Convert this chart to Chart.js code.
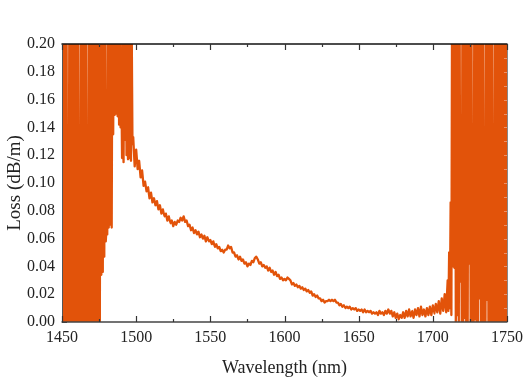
<!DOCTYPE html>
<html>
<head>
<meta charset="utf-8">
<script src="https://cdn.jsdelivr.net/npm/chart.js@4/dist/chart.umd.min.js"></script>
<style>
  html, body { margin: 0; padding: 0; background: #fff; }
  #wrap { width: 529px; height: 387px; position: relative; }
</style>
</head>
<body>
<div id="wrap"><canvas id="c" width="529" height="387"></canvas></div>
<script>
// ---- Data (wavelength in nm, loss in dB/m) ----
// Short-wavelength noisy edge (signal saturates above 0.20)
const blueEdgeWl = [1450,1450.5,1451,1451.5,1452,1452.5,1453,1453.5,1454,1454.5,1455,1455.5,1456,1456.5,1457,1457.5,1458,1458.5,1459,1459.5,1460,1460.5,1461,1461.5,1462,1462.5,1463,1463.5,1464,1464.5,1465,1465.5,1466,1466.5,1467,1467.5,1468,1468.5,1469,1469.5,1470,1470.5,1471,1471.5,1472,1472.5,1473,1473.5,1474,1474.5,1475,1475.5];
const blueEdgeLoss = [0.25,0,0.25,0,0.25,0,0.25,0,0.004,0,0.25,0,0.25,0,0.25,0,0.25,0,0.25,0,0.25,0,0.25,0,0.011,0,0.25,0,0.25,0,0.25,0,0.25,0,0.068,0,0.25,0,0.25,0,0.25,0,0.25,0,0.25,0,0.25,0,0.25,0,0.25,0];

// Transition region 1476–1497.5 nm
const transitionWl = [1476,1476.5,1477,1477.5,1478,1478.5,1479,1479.5,1480,1480.5,1481,1481.5,1482,1482.5,1483,1483.5,1484,1484.5,1485,1485.5,1486,1486.5,1487,1487.5,1488,1488.5,1489,1489.5,1490,1490.5,1491,1491.5,1492,1492.5,1493,1493.5,1494,1494.5,1495,1495.5,1496,1496.5,1497,1497.5];
const transitionLoss = [0.25,0.034,0.25,0.036,0.25,0.047,0.25,0.058,0.068,0.063,0.25,0.068,0.25,0.07,0.25,0.068,0.25,0.135,0.25,0.149,0.25,0.15,0.25,0.148,0.25,0.142,0.25,0.14,0.172,0.118,0.25,0.115,0.25,0.131,0.25,0.12,0.25,0.117,0.25,0.118,0.22,0.116,0.21,0.128];

// Low-loss band 1498–1713 nm
const bandWl = [1498,1499,1500,1501,1502,1503,1504,1505,1506,1507,1508,1509,1510,1511,1512,1513,1514,1515,1516,1517,1518,1519,1520,1521,1522,1523,1524,1525,1526,1527,1528,1529,1530,1531,1532,1533,1534,1535,1536,1537,1538,1539,1540,1541,1542,1543,1544,1545,1546,1547,1548,1549,1550,1551,1552,1553,1554,1555,1556,1557,1558,1559,1560,1561,1562,1563,1564,1565,1566,1567,1568,1569,1570,1571,1572,1573,1574,1575,1576,1577,1578,1579,1580,1581,1582,1583,1584,1585,1586,1587,1588,1589,1590,1591,1592,1593,1594,1595,1596,1597,1598,1599,1600,1601,1602,1603,1604,1605,1606,1607,1608,1609,1610,1611,1612,1613,1614,1615,1616,1617,1618,1619,1620,1621,1622,1623,1624,1625,1626,1627,1628,1629,1630,1631,1632,1633,1634,1635,1636,1637,1638,1639,1640,1641,1642,1643,1644,1645,1646,1647,1648,1649,1650,1651,1652,1653,1654,1655,1656,1657,1658,1659,1660,1661,1662,1663,1664,1665,1666,1667,1668,1669,1670,1671,1672,1673,1674,1675,1676,1677,1678,1679,1680,1681,1682,1683,1684,1685,1686,1687,1688,1689,1690,1691,1692,1693,1694,1695,1696,1697,1698,1699,1700,1701,1702,1703,1704,1705,1706,1707,1708,1709,1710,1710.5,1711,1711.5,1712,1712.5,1713];
const bandLoss = [0.133,0.112,0.124,0.110,0.116,0.104,0.109,0.098,0.101,0.094,0.097,0.089,0.093,0.086,0.089,0.084,0.087,0.081,0.084,0.078,0.081,0.076,0.078,0.073,0.076,0.071,0.073,0.069,0.072,0.070,0.073,0.072,0.075,0.073,0.076,0.072,0.073,0.069,0.070,0.066,0.068,0.064,0.066,0.063,0.065,0.061,0.063,0.060,0.062,0.058,0.061,0.058,0.059,0.056,0.058,0.054,0.056,0.053,0.054,0.051,0.052,0.050,0.052,0.052,0.055,0.053,0.054,0.050,0.050,0.047,0.048,0.045,0.047,0.044,0.045,0.042,0.043,0.040,0.042,0.041,0.044,0.043,0.046,0.047,0.045,0.042,0.043,0.040,0.041,0.039,0.040,0.037,0.039,0.036,0.037,0.034,0.036,0.033,0.034,0.031,0.032,0.030,0.031,0.030,0.032,0.031,0.030,0.027,0.028,0.026,0.027,0.025,0.026,0.024,0.025,0.023,0.024,0.022,0.023,0.021,0.022,0.019,0.020,0.018,0.019,0.017,0.017,0.015,0.016,0.014,0.015,0.015,0.016,0.015,0.016,0.015,0.016,0.014,0.014,0.012,0.013,0.011,0.012,0.010,0.011,0.010,0.011,0.009,0.010,0.009,0.010,0.008,0.009,0.008,0.009,0.007,0.009,0.007,0.008,0.007,0.008,0.006,0.007,0.006,0.007,0.005,0.008,0.006,0.007,0.005,0.008,0.006,0.009,0.006,0.008,0.004,0.007,0.003,0.006,0.002,0.005,0.003,0.007,0.003,0.008,0.004,0.009,0.004,0.008,0.003,0.009,0.005,0.010,0.004,0.011,0.005,0.009,0.004,0.010,0.005,0.011,0.005,0.012,0.006,0.013,0.007,0.015,0.006,0.017,0.008,0.020,0.007,0.030,0.008,0.050,0.010,0.086,0.005,0.25];

// Long-wavelength noisy edge (signal saturates above 0.20)
const redEdgeWl = [1713.5,1714,1714.5,1715,1715.5,1716,1716.5,1717,1717.5,1718,1718.5,1719,1719.5,1720,1720.5,1721,1721.5,1722,1722.5,1723,1723.5,1724,1724.5,1725,1725.5,1726,1726.5,1727,1727.5,1728,1728.5,1729,1729.5,1730,1730.5,1731,1731.5,1732,1732.5,1733,1733.5,1734,1734.5,1735,1735.5,1736,1736.5,1737,1737.5,1738,1738.5,1739,1739.5,1740,1740.5,1741,1741.5,1742,1742.5,1743,1743.5,1744,1744.5,1745,1745.5,1746,1746.5,1747,1747.5,1748,1748.5,1749,1749.5,1750];
const redEdgeLoss = [0.04,0.25,0.039,0.25,0,0.25,0.005,0.25,0,0.25,0.029,0.136,0,0.25,0,0.25,0.003,0.25,0,0.25,0,0.25,0.042,0.25,0,0.25,0,0.106,0,0.25,0.002,0.25,0,0.25,0,0.25,0.017,0.25,0,0.25,0,0.25,0,0.02,0,0.25,0.016,0.25,0,0.25,0,0.25,0,0.25,0,0.126,0,0.25,0,0.25,0,0.25,0,0.25,0,0.25,0,0.25,0,0.25,0,0.25,0,0.25];

// Axis ticks
const xTicks = [1450,1500,1550,1600,1650,1700,1750];
const yTicks = [0.00,0.02,0.04,0.06,0.08,0.10,0.12,0.14,0.16,0.18,0.20];

const allWl = [].concat(blueEdgeWl, transitionWl, bandWl, redEdgeWl);
const allLoss = [].concat(blueEdgeLoss, transitionLoss, bandLoss, redEdgeLoss);
const points = allWl.map((w, i) => ({x: w, y: allLoss[i]}));

const ORANGE = '#e2530a';
const FONT = "'Liberation Serif', 'Times New Roman', serif";

const framePlugin = {
  id: 'frame',
  beforeDatasetsDraw(chart) {
    const {ctx, chartArea: a, scales: {y}} = chart;
    ctx.save();
    ctx.strokeStyle = '#333';
    ctx.lineWidth = 1;
    for (let i = 0; i <= 20; i++) {
      const py = Math.round(y.getPixelForValue(i * 0.01)) + 0.5;
      const len = i % 2 === 0 ? 5 : 3;
      ctx.beginPath(); ctx.moveTo(a.left, py); ctx.lineTo(a.left + len, py); ctx.stroke();
    }
    ctx.restore();
  },
  afterDatasetsDraw(chart) {
    const {ctx, chartArea: a, scales: {x, y}} = chart;
    ctx.save();
    ctx.lineWidth = 1.5;
    ctx.strokeStyle = '#111';
    ctx.beginPath(); ctx.moveTo(a.left - 0.5, a.top); ctx.lineTo(a.right + 0.5, a.top); ctx.stroke();
    ctx.strokeStyle = '#444';
    ctx.beginPath(); ctx.moveTo(a.left - 0.5, a.bottom); ctx.lineTo(a.right + 0.5, a.bottom); ctx.stroke();
    ctx.lineWidth = 1;
    ctx.strokeStyle = '#555';
    ctx.beginPath(); ctx.moveTo(a.left + 0.5, a.top); ctx.lineTo(a.left + 0.5, a.bottom); ctx.stroke();
    ctx.strokeStyle = '#888';
    ctx.beginPath(); ctx.moveTo(a.right + 0.5, a.top); ctx.lineTo(a.right + 0.5, a.bottom); ctx.stroke();
    ctx.strokeStyle = '#333';
    ctx.lineWidth = 1.2;
    for (let v = 1450; v <= 1750; v += 25) {
      const px = Math.round(x.getPixelForValue(v)) + 0.5;
      const len = (v % 50 === 0) ? 6 : 3;
      ctx.beginPath(); ctx.moveTo(px, a.bottom); ctx.lineTo(px, a.bottom - len); ctx.stroke();
      ctx.beginPath(); ctx.moveTo(px, a.top); ctx.lineTo(px, a.top + len); ctx.stroke();
    }
    ctx.strokeStyle = 'rgba(240,150,110,0.9)';
    ctx.lineWidth = 1;
    for (let i = 1; i < 20; i++) {
      const py = Math.round(y.getPixelForValue(i * 0.01)) + 0.5;
      ctx.beginPath(); ctx.moveTo(a.right, py); ctx.lineTo(a.right - 3, py); ctx.stroke();
    }
    ctx.restore();
  }
};

new Chart(document.getElementById('c'), {
  type: 'line',
  data: {
    datasets: [{
      data: points,
      borderColor: ORANGE,
      backgroundColor: ORANGE,
      borderWidth: 2.3,
      borderJoinStyle: 'round',
      pointRadius: 0,
      tension: 0.000001,
      fill: false
    }]
  },
  options: {
    responsive: false,
    animation: false,
    devicePixelRatio: 1,
    layout: { padding: { left: 0, top: 44, right: 19, bottom: 0 } },
    plugins: { legend: { display: false }, tooltip: { enabled: false } },
    scales: {
      x: {
        type: 'linear',
        min: 1450, max: 1750,
        afterFit: s => { s.height = 65; },
        afterBuildTicks: s => { s.ticks = xTicks.map(v => ({value: v})); },
        grid: { display: false, drawTicks: false },
        border: { display: false },
        ticks: { padding: 6, color: '#222', maxRotation: 0, autoSkip: false,
                 font: { family: FONT, size: 16 }, callback: v => String(v) },
        title: { display: true, text: 'Wavelength (nm)', color: '#222',
                 font: { family: FONT, size: 18 }, padding: { top: 0, bottom: 8 } }
      },
      y: {
        min: 0, max: 0.2,
        afterFit: s => { s.width = 62; },
        afterBuildTicks: s => { s.ticks = yTicks.map(v => ({value: v})); },
        grid: { display: false, drawTicks: false },
        border: { display: false },
        ticks: { padding: 7, color: '#222', autoSkip: false,
                 font: { family: FONT, size: 16 }, callback: v => Number(v).toFixed(2) },
        title: { display: true, text: 'Loss (dB/m)', color: '#222',
                 font: { family: FONT, size: 19 }, padding: { top: 4, bottom: 0 } }
      }
    }
  },
  plugins: [framePlugin]
});
</script>
</body>
</html>
